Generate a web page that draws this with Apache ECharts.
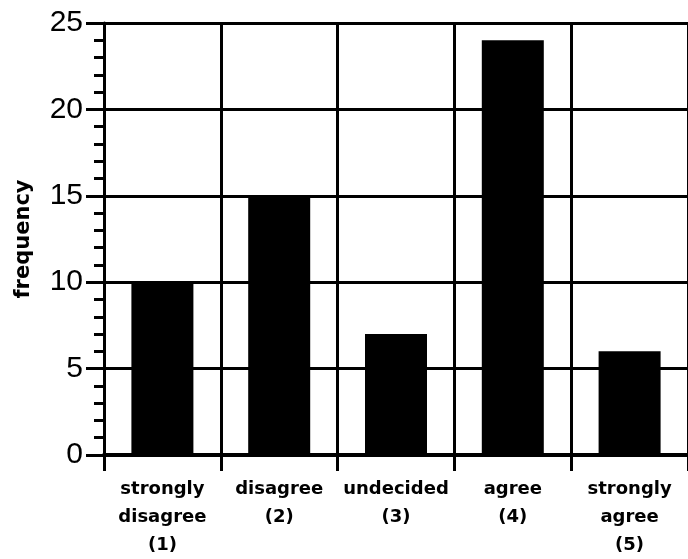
<!DOCTYPE html>
<html>
<head>
<meta charset="utf-8">
<script src="https://cdn.jsdelivr.net/npm/echarts@6/dist/echarts.min.js"></script>
<style>
html,body{margin:0;padding:0;background:#fff;}
#chart{width:688px;height:559px;}
</style>
</head>
<body>
<div id="chart"></div>
<script>
const categories = ['strongly\ndisagree\n(1)', 'disagree\n(2)', 'undecided\n(3)', 'agree\n(4)', 'strongly\nagree\n(5)'];
const frequency = [10, 15, 7, 24, 6];
const yTicks = [0, 5, 10, 15, 20, 25];

const chart = echarts.init(document.getElementById('chart'));
chart.setOption({
  animation: false,
  backgroundColor: '#ffffff',
  grid: { left: 104, top: 23, width: 589, height: 432 },
  xAxis: {
    type: 'category',
    data: categories,
    axisLine: { show: true, lineStyle: { color: '#000', width: 4 } },
    axisTick: { show: true, length: 16, interval: 0, lineStyle: { color: '#000', width: 3 } },
    splitLine: { show: true, interval: 0, lineStyle: { color: '#000', width: 3 } },
    axisLabel: {
      interval: 0, margin: 20, color: '#000',
      fontFamily: 'DejaVu Sans', fontWeight: 'bold', fontSize: 18, lineHeight: 28
    }
  },
  yAxis: {
    type: 'value',
    min: yTicks[0], max: yTicks[yTicks.length - 1], interval: 5,
    name: 'frequency',
    nameLocation: 'middle',
    nameRotate: 90,
    nameGap: 70,
    nameTextStyle: { color: '#000', fontFamily: 'DejaVu Sans', fontWeight: 'bold', fontSize: 21 },
    axisLine: { show: true, lineStyle: { color: '#000', width: 3 } },
    axisTick: { show: true, length: 18, lineStyle: { color: '#000', width: 3 } },
    minorTick: { show: true, splitNumber: 5, length: 10, lineStyle: { color: '#000', width: 3 } },
    splitLine: { show: true, lineStyle: { color: '#000', width: 3 } },
    axisLabel: {
      margin: 21, color: '#000',
      fontFamily: 'Liberation Sans', fontSize: 30,
      formatter: v => yTicks.includes(v) ? String(v) : ''
    }
  },
  series: [{
    type: 'bar',
    data: frequency,
    barWidth: 62,
    itemStyle: { color: '#000' }
  }]
});
</script>
</body>
</html>
